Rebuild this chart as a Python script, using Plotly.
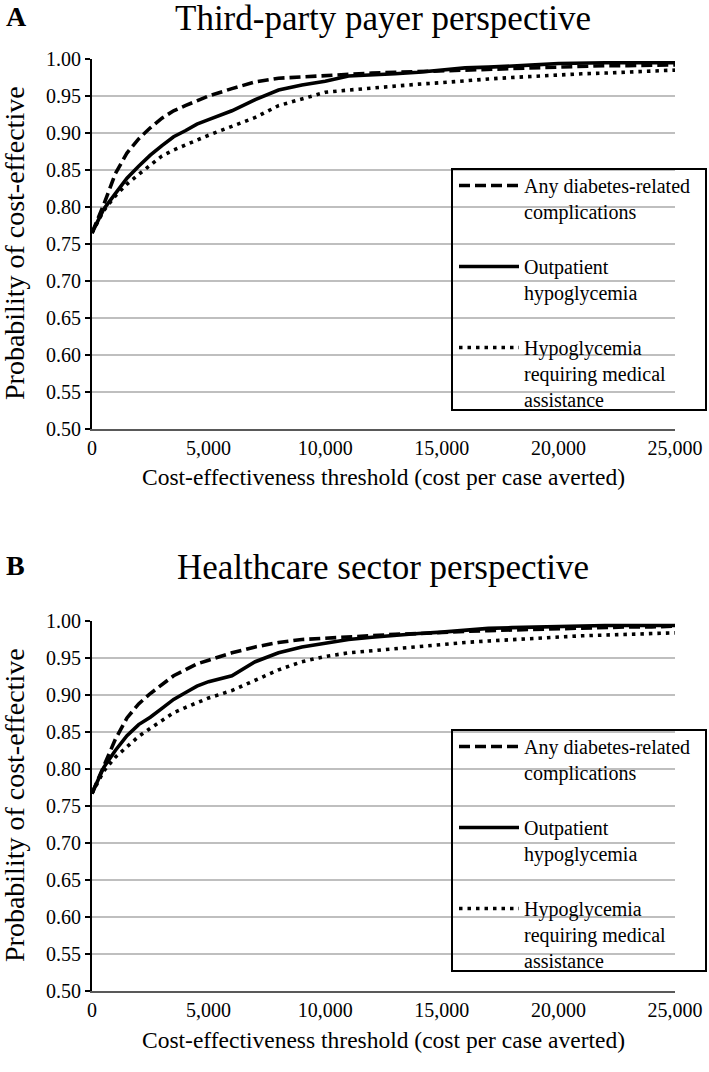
import plotly.graph_objects as go

# ---- data ----
thresholds = [0, 500, 1000, 1500, 2000, 2500, 3000, 3500, 4000, 4500, 5000,
              6000, 7000, 8000, 9000, 10000, 11000, 12000, 13000, 14000, 15000,
              16000, 17000, 18000, 19000, 20000, 21000, 22000, 23000, 24000, 25000]

a_any = [0.765, 0.803, 0.845, 0.873, 0.892, 0.907, 0.920, 0.930, 0.937, 0.944, 0.950,
         0.960, 0.969, 0.974, 0.976, 0.978, 0.980, 0.981, 0.982, 0.983, 0.985,
         0.986, 0.987, 0.988, 0.989, 0.990, 0.990, 0.991, 0.991, 0.992, 0.992]
a_out = [0.765, 0.797, 0.818, 0.839, 0.855, 0.870, 0.883, 0.895, 0.903, 0.912, 0.918,
         0.930, 0.945, 0.958, 0.965, 0.970, 0.977, 0.978, 0.980, 0.982, 0.985,
         0.988, 0.989, 0.990, 0.992, 0.994, 0.995, 0.995, 0.995, 0.995, 0.995]
a_med = [0.765, 0.795, 0.815, 0.831, 0.844, 0.857, 0.869, 0.877, 0.884, 0.891, 0.897,
         0.909, 0.921, 0.937, 0.946, 0.955, 0.958, 0.961, 0.964, 0.966, 0.968,
         0.971, 0.973, 0.975, 0.977, 0.979, 0.980, 0.981, 0.982, 0.984, 0.985]

b_any = [0.767, 0.805, 0.840, 0.869, 0.888, 0.902, 0.914, 0.926, 0.934, 0.942, 0.947,
         0.957, 0.965, 0.971, 0.975, 0.977, 0.979, 0.981, 0.982, 0.983, 0.985,
         0.986, 0.987, 0.988, 0.989, 0.990, 0.991, 0.991, 0.992, 0.992, 0.993]
b_out = [0.767, 0.802, 0.825, 0.845, 0.860, 0.870, 0.882, 0.894, 0.903, 0.912, 0.918,
         0.926, 0.945, 0.957, 0.965, 0.970, 0.975, 0.978, 0.981, 0.983, 0.985,
         0.988, 0.990, 0.991, 0.992, 0.993, 0.994, 0.994, 0.994, 0.994, 0.994]
b_med = [0.767, 0.797, 0.816, 0.830, 0.844, 0.855, 0.866, 0.876, 0.883, 0.890, 0.896,
         0.906, 0.920, 0.934, 0.945, 0.952, 0.957, 0.960, 0.963, 0.966, 0.968,
         0.971, 0.973, 0.975, 0.977, 0.979, 0.980, 0.981, 0.982, 0.983, 0.984]

series_names = ["Any diabetes-related<br>complications",
                "Outpatient<br>hypoglycemia",
                "Hypoglycemia<br>requiring medical<br>assistance"]
panel_letters = ["A", "B"]
panel_titles = ["Third-party payer perspective", "Healthcare sector perspective"]
x_title = "Cost-effectiveness threshold (cost per case averted)"
y_title = "Probability of cost-effective"
y_ticks = [0.50, 0.55, 0.60, 0.65, 0.70, 0.75, 0.80, 0.85, 0.90, 0.95, 1.00]
x_ticks = [0, 5000, 10000, 15000, 20000, 25000]

# ---- figure ----
W, H = 709, 1072
FONT = "Liberation Serif, Times New Roman, serif"
styles = [dict(dash="11px,5px", width=3.6), dict(dash="solid", width=3.6),
          dict(dash="3.5px,5px", width=3.6)]

fig = go.Figure()
panels = [(a_any, a_out, a_med), (b_any, b_out, b_med)]
for p, data in enumerate(panels):
    sfx = "" if p == 0 else "2"
    for i, (vals, name, st) in enumerate(zip(data, series_names, styles)):
        fig.add_trace(go.Scatter(
            x=thresholds, y=vals, mode="lines", name=name,
            line=dict(color="black", dash=st["dash"], width=st["width"]),
            xaxis="x" + sfx, yaxis="y" + sfx,
            legend="legend" + sfx, legendgroup=f"g{p}{i}",
        ))

def px_x(v):
    return v / W

def px_y(v):
    return 1 - v / H

x_dom = [px_x(92), px_x(675)]
y_doms = [[px_y(429), px_y(59)], [px_y(991), px_y(621)]]

axis_common_x = dict(range=[0, 25000], tickvals=x_ticks,
                     ticktext=[f"{v:,}" for v in x_ticks],
                     showgrid=False, zeroline=False, showline=True,
                     linecolor="#595959", linewidth=1.5, ticks="",
                     tickfont=dict(family=FONT, size=20, color="black"),
                     domain=x_dom, fixedrange=True, automargin=False)
axis_common_y = dict(range=[0.5, 1.0], tickvals=y_ticks,
                     ticktext=[f"{v:.2f}" for v in y_ticks],
                     showgrid=True, gridcolor="#bfbfbf", gridwidth=1.5,
                     zeroline=False, showline=True, linecolor="black", linewidth=2,
                     ticks="outside", ticklen=5, tickwidth=2, tickcolor="black",
                     tickfont=dict(family=FONT, size=20, color="black"),
                     fixedrange=True, automargin=False)

legend_common = dict(bgcolor="rgba(0,0,0,0)", borderwidth=0,
                     font=dict(family=FONT, size=20, color="black"),
                     xanchor="left", yanchor="top", x=px_x(454), valign="top",
                     traceorder="grouped", tracegroupgap=26, itemwidth=60)

legend_boxes = [(452, 169, 706, 410), (452, 730, 706, 971)]
shapes = [dict(type="rect", xref="paper", yref="paper",
               x0=px_x(x0), x1=px_x(x1), y0=px_y(y1), y1=px_y(y0),
               line=dict(color="black", width=2), fillcolor="rgba(0,0,0,0)")
          for (x0, y0, x1, y1) in legend_boxes]

fig.update_layout(
    width=W, height=H, margin=dict(l=0, r=0, t=0, b=0, autoexpand=False),
    paper_bgcolor="white", plot_bgcolor="white",
    showlegend=True, shapes=shapes,
    xaxis=dict(**axis_common_x, anchor="y"),
    yaxis=dict(**axis_common_y, domain=y_doms[0], anchor="x"),
    xaxis2=dict(**axis_common_x, anchor="y2"),
    yaxis2=dict(**axis_common_y, domain=y_doms[1], anchor="x2"),
    legend=dict(**legend_common, y=px_y(166)),
    legend2=dict(**legend_common, y=px_y(727)),
)

title_y = [19, 567]
xt_y = [477, 1040]
yt_y = [243, 805]
for p in range(2):
    fig.add_annotation(text=f"<b>{panel_letters[p]}</b>", x=px_x(4), y=px_y(title_y[p] - 2),
                       xref="paper", yref="paper", xanchor="left", yanchor="middle",
                       showarrow=False, font=dict(family=FONT, size=28, color="black"))
    fig.add_annotation(text=panel_titles[p], x=px_x(383), y=px_y(title_y[p]),
                       xref="paper", yref="paper", xanchor="center", yanchor="middle",
                       showarrow=False, font=dict(family=FONT, size=35, color="black"))
    fig.add_annotation(text=x_title, x=px_x(383), y=px_y(xt_y[p]),
                       xref="paper", yref="paper", xanchor="center", yanchor="middle",
                       showarrow=False, font=dict(family=FONT, size=23.5, color="black"))
    fig.add_annotation(text=y_title, x=px_x(14), y=px_y(yt_y[p]),
                       xref="paper", yref="paper", xanchor="center", yanchor="middle",
                       textangle=-90, showarrow=False,
                       font=dict(family=FONT, size=28, color="black"))

fig.write_html("out.html", post_script="document.body.style.margin='0px';",
               config={"displayModeBar": False})
